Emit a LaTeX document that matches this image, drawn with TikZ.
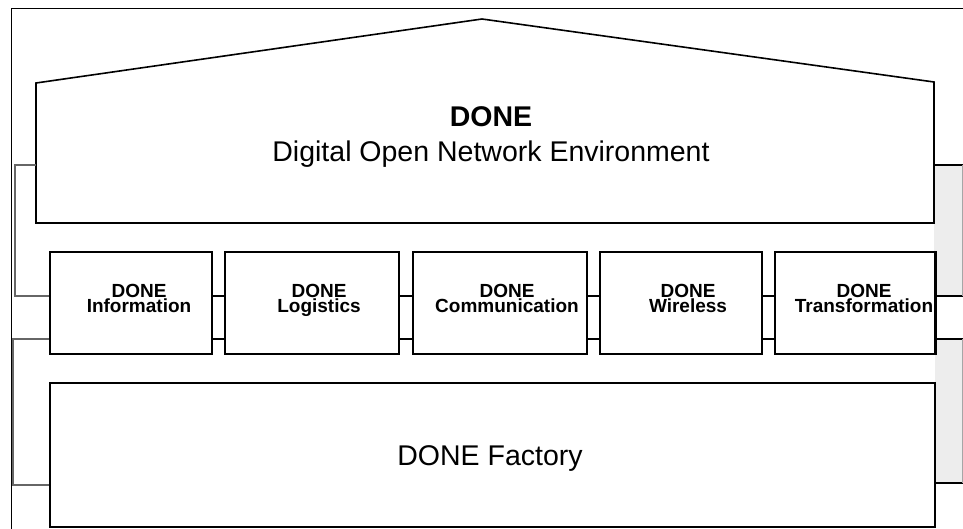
\documentclass[tikz,border=0pt]{standalone}
\usepackage{fontspec}
\setmainfont{Liberation Sans}
\begin{document}
\begin{tikzpicture}[x=1pt, y=-1pt,
  wall/.style={line width=1.6pt},
  module/.style={draw, line width=1.6pt, minimum height=102pt, inner sep=0pt},
  modlabel/.style={font=\fontsize{19}{15}\selectfont\bfseries, align=center, inner sep=0pt, anchor=north},
  bigtext/.style={font=\fontsize{28.5}{34}\selectfont, inner sep=0pt, anchor=base},
  sideline/.style={line width=1.6pt, black!60},
  stipple/.style={fill=black!7}]

  \useasboundingbox (0,0) rectangle (963,529);

  % outer frame
  \draw[line width=1pt] (11,529) -- (11,9) -- (963,9);

  % stippled side pockets
  \fill[stipple] (934,165) rectangle (963,296);
  \fill[stipple] (935,339) rectangle (963,483);

  % roof
  \draw[wall] (36,223) -- (36,83) -- (482,19) -- (934,82) -- (934,223) -- cycle;
  \node[bigtext, font=\fontsize{28.5}{34}\selectfont\bfseries] (done) at (491,127) {DONE};
  \node[bigtext] (doneenv) at (491,162) {Digital Open Network Environment};

  % modules
  \node[module, minimum width=162pt] (info) at (131,303) {};
  \node[module, minimum width=174pt] (logi) at (312,303) {};
  \node[module, minimum width=174pt] (comm) at (500,303) {};
  \node[module, minimum width=162pt] (wire) at (681,303) {};
  \node[module, minimum width=160pt] (trans) at (855,303) {};

  \node[modlabel] (infolbl) at ([xshift=8pt, yshift=19pt]info.center) {DONE\\Information};
  \node[modlabel] (logilbl) at ([xshift=7pt, yshift=19pt]logi.center) {DONE\\Logistics};
  \node[modlabel] (commlbl) at ([xshift=7pt, yshift=19pt]comm.center) {DONE\\Communication};
  \node[modlabel] (wirelbl) at ([xshift=7pt, yshift=19pt]wire.center) {DONE\\Wireless};
  \node[modlabel] (translbl) at ([xshift=9pt, yshift=19pt]trans.center) {DONE\\Transformation};
  \draw[line width=1.6pt] (trans.north east) -- (trans.south east);

  % factory
  \node[module, minimum width=885pt, minimum height=144pt] (factory) at (492.5,455) {};
  \node[bigtext] (factorylbl) at (490,465) {DONE Factory};

  % bus lines between modules
  \coordinate (busA) at (0,296);
  \coordinate (busB) at (0,339);
  \foreach \a/\b in {info/logi, logi/comm, comm/wire, wire/trans} {
    \draw[wall] (\a.east |- busA) -- (\b.west |- busA);
    \draw[wall] (\a.east |- busB) -- (\b.west |- busB);
  }

  % left brackets
  \draw[sideline] (36,165) -- (15,165) -- (15,296) -- (info.west |- busA);
  \draw[sideline] (info.west |- busB) -- (13,339) -- (13,485) -- (factory.west |- 0,485);

  % right brackets
  \draw[wall] (934,165) -- (963,165);
  \draw[wall] (trans.east |- busA) -- (963,296);
  \draw[wall] (trans.east |- busB) -- (963,339);
  \draw[wall] (factory.east |- 0,483) -- (963,483);
  \draw[line width=1pt, black!35] (962,165) -- (962,296);
  \draw[line width=1pt, black!35] (962,339) -- (962,483);

\end{tikzpicture}
\end{document}
